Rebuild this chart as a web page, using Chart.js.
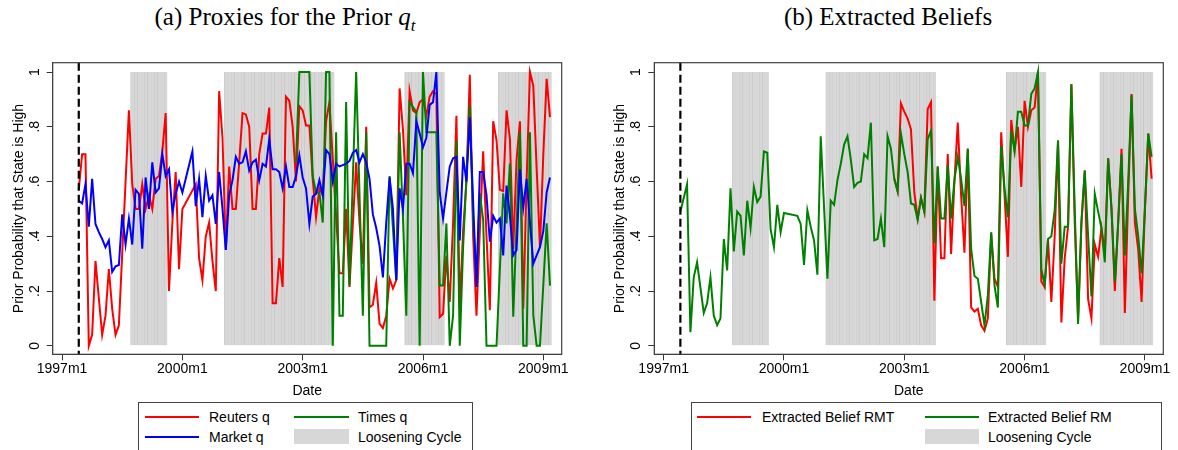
<!DOCTYPE html>
<html>
<head>
<meta charset="utf-8">
<script src="https://cdn.jsdelivr.net/npm/chart.js@4.4.1/dist/chart.umd.min.js"></script>
<style>
	body { margin: 0; width: 1178px; height: 450px; overflow: hidden; position: relative; background: #fff; font-family: "Liberation Sans", Arial, sans-serif; color: #000; }
	.panel { position: absolute; top: 0; width: 589px; height: 400px; }
	.title { position: absolute; top: 3px; width: 400px; text-align: center; font-family: "Liberation Serif", "DejaVu Serif", serif; font-size: 25px; }
	.legend { position: absolute; top: 402px; height: 60px; border: 1px solid #444; box-sizing: border-box; }
	.key { position: absolute; height: 2px; }
	.swatch { position: absolute; height: 15px; background: #d7d7d7; }
	.lab { position: absolute; font-size: 14px; line-height: 18px; white-space: nowrap; }
</style>
</head>
<body>

<div class="title" style="left:85px">(a) Proxies for the Prior <i>q<sub style="font-size:17px">t</sub></i></div>
<div class="title" style="left:688px">(b) Extracted Beliefs</div>

<div class="panel" style="left:0"><canvas id="chart_a" width="589" height="400"></canvas></div>
<div class="panel" style="left:589px"><canvas id="chart_b" width="589" height="400"></canvas></div>

<div class="legend" style="left:138px;width:335px"></div>
<div class="key" style="left:145px;top:416px;width:54px;background:#ff0000"></div>
<div class="lab" style="left:209px;top:408px">Reuters q</div>
<div class="key" style="left:145px;top:436px;width:54px;background:#0000ff"></div>
<div class="lab" style="left:209px;top:428px">Market q</div>
<div class="key" style="left:294px;top:416px;width:55px;background:#008000"></div>
<div class="lab" style="left:358px;top:408px">Times q</div>
<div class="swatch" style="left:294px;top:429px;width:55px"></div>
<div class="lab" style="left:358px;top:428px">Loosening Cycle</div>

<div class="legend" style="left:691px;width:471px"></div>
<div class="key" style="left:697px;top:416px;width:54px;background:#ff0000"></div>
<div class="lab" style="left:762px;top:408px">Extracted Belief RMT</div>
<div class="key" style="left:925px;top:416px;width:54px;background:#008000"></div>
<div class="lab" style="left:988px;top:408px">Extracted Belief RM</div>
<div class="swatch" style="left:925px;top:429px;width:54px"></div>
<div class="lab" style="left:988px;top:428px">Loosening Cycle</div>

<script>
// months are counted from 1997m1 = 0
const xTickMonths = [0, 36, 72, 108, 144]
const xTickLabels = ['1997m1', '2000m1', '2003m1', '2006m1', '2009m1']
const yTickValues = [0, 0.2, 0.4, 0.6, 0.8, 1]
const yTickLabels = ['0', '.2', '.4', '.6', '.8', '1']
const dashMonth = 5

// loosening cycles (first and last month of each)
const loosenStart = [21, 49, 103, 131]
const loosenEnd = [31, 81, 114, 146]

// panel (a), monthly from 1997m6 (null = no observation, line joins across)
const proxyStart = 5
const reutersQ = [
	.57, .70, .70, .00, .04, .31, null, .04, .11, .28, .135, .04,
	.075, null, null, .86, .59, .50, .50, .59, .50, .55, .50, .61,
	.62, .71, .85, .20, .45, .635, .28, .50, null, null, null, .59,
	.32, .24, .40, .45, .31, .20, .93, .76, .35, .655, .50, .50,
	.67, .85, .845, .80, .50, .50, .70, .775, .775, .87, .155, .155,
	.32, .215, .91, .895, .80, .60, .875, .86, .805, .805, .61, .47,
	.575, .55, .82, .89, null, null, .265, .265, .50, .215, null, .67,
	.45, .30, .80, .14, .15, .23, .08, .065, .11, .245, .21, .24,
	.94, .79, .55, .93, .86, .85, .89, .90, .84, .91, .93, .92,
	.105, .117, .33, .16, .45, .84, .14, .42, .60, .99, .40, .11,
	.42, .71, .40, .13, .82, .75, .57, .565, .86, .756, .354, .68,
	.82, .135, .60, 1.0, .95, .65, .36, .70, .975, .835,
]
const marketQ = [
	.53, .52, .59, .435, .61, .445, .415, .39, .36, .385, .27, .29,
	.295, .48, .37, .465, .37, .57, .555, .355, .615, .50, .67, .56,
	.575, .70, .62, .645, .49, .555, .60, .56, null, null, .71, .51,
	.61, .47, .62, .53, .55, .445, .635, .50, .35, .55, .605, .69,
	.665, .67, .71, .64, .67, .68, .605, .665, .655, .755, .645, .645,
	.635, .575, .655, .58, .58, .62, .695, .615, .575, .445, .545, .555,
	.605, .55, .715, .70, .60, .665, .655, .66, .665, .675, .705, .715,
	.67, .70, .67, .61, .48, .43, .365, .25, .45, .615, .50, .24,
	.575, .50, .665, .665, .63, .82, .775, .725, .76, .88, .89, 1.0,
	.56, .465, .56, .655, .685, .69, .385, .69, .60, .835, .525, .215,
	.635, .635, .55, .38, .475, .45, .465, .33, .585, .475, .33, .35,
	.645, .505, .61, .45, .30, .33, .36, .42, .56, .615,
]
// Times q starts in 2002m11
const timesStart = 70
const timesQ = [
	.67, 1, 1, 1, 1, .62, .56, .56, .45, 1, 1, 0,
	.78, .11, .11, .89, .22, null, 1, null, .11, .78, 0, 0,
	0, 0, 0, 0, .62, null, .24, .78, .47, .11, .89, null,
	.855, 0, 1, .78, .78, .78, .78, .22, .22, .447, 0, .11,
	.75, 0, .36, .617, .88, .46, .24, .557, .46, 0, 0, 0,
	0, null, .557, .447, .666, .106, null, .78, 0, 0, .78, .112,
	0, 0, null, .447, .22,
]

// panel (b)
const beliefStart = 5
const beliefRM = [
	.49, null, .59, .05, .25, .305, null, .12, .155, .25, .11, .075,
	.10, .39, .275, .575, .345, .49, .475, .33, .53, .43, .58, .525,
	.545, .71, .705, .425, .36, .515, .415, .485, null, null, null, .475,
	.445, .295, .495, .435, .385, .26, .765, null, .245, .53, .515, .605,
	.665, .735, .765, .68, .58, .595, .60, .70, .685, .815, .385, .39,
	.465, .36, .765, .72, .61, .565, .775, .70, .635, .52, .515, .46,
	.54, .49, .755, .785, .375, .655, .465, .465, .66, .465, .605, .69,
	.61, .51, .72, .355, .255, .245, .16, .075, .185, .415, .22, .14,
	.73, .575, .47, .785, .71, .855, .855, .805, .805, .92, .94, 1.0,
	.28, .225, .39, .40, .495, .75, .30, .435, .435, .955, .50, .08,
	.45, .64, .40, .18, .555, .49, .43, .305, .685, .50, .235, .45,
	.70, .33, .60, .915, .50, .40, .265, .50, .775, .69,
]
const rmtStart = 69
const beliefRMT = [
	.61, .565, .885, .855, .83, .79, .56, .465, .54, .49, .865, .89,
	.165, .655, .32, .32, .70, .335, .60, .815, .55, .34, .72, .14,
	.125, .135, .075, .055, .10, .41, .245, .215, .78, .55, .325, .825,
	.715, .80, .58, .895, .80, .86, .87, 1.0, .235, .215, .39, .16,
	.40, .75, .085, .32, .435, .955, .45, .10, .45, .64, .17, .10,
	.37, .325, .43, .34, .685, .50, .20, .45, .72, .12, .55, .92,
	.45, .35, .16, .50, .775, .61,
]

const sansFont = '"Liberation Sans", Arial, sans-serif'

function toPoints(start, values) {
	return values.map(function (v, i) {
		return { x: start + i, y: v }
	})
}

function loosenBars() {
	let bars = []
	for (let k = 0; k < loosenStart.length; k++) {
		for (let m = loosenStart[k]; m <= loosenEnd[k]; m++) {
			bars.push({ x: m, y: 1 })
		}
	}
	return bars
}

function lineSet(label, color, points, order) {
	return {
		type: 'line',
		label: label,
		data: points,
		borderColor: color,
		borderWidth: 2,
		pointRadius: 0,
		tension: 0,
		spanGaps: true,
		fill: false,
		order: order,
	}
}

function barSet() {
	return {
		type: 'bar',
		label: 'Loosening Cycle',
		data: loosenBars(),
		backgroundColor: '#d7d7d7',
		borderColor: '#cacaca',
		borderWidth: { left: 1, right: 0, top: 0, bottom: 0 },
		borderSkipped: false,
		barPercentage: 1,
		categoryPercentage: 1,
		order: 10,
	}
}

// frame, dashed start line and the rotated y tick labels
const decorPlugin = {
	id: 'decor',
	afterDatasetsDraw: function (chart) {
		const ctx = chart.ctx
		const area = chart.chartArea
		const x = chart.scales.x.getPixelForValue(dashMonth)
		ctx.save()
		ctx.strokeStyle = '#000'
		ctx.lineWidth = 2.2
		ctx.setLineDash([8, 4])
		ctx.beginPath()
		ctx.moveTo(x, area.top)
		ctx.lineTo(x, area.bottom)
		ctx.stroke()
		ctx.restore()
	},
	afterDraw: function (chart) {
		const ctx = chart.ctx
		const area = chart.chartArea
		ctx.save()
		ctx.strokeStyle = '#404040'
		ctx.lineWidth = 1.2
		ctx.strokeRect(area.left, area.top, area.right - area.left, area.bottom - area.top)
		ctx.fillStyle = '#000'
		ctx.font = '14px ' + sansFont
		ctx.textAlign = 'center'
		ctx.textBaseline = 'middle'
		yTickValues.forEach(function (v, i) {
			const y = chart.scales.y.getPixelForValue(v)
			ctx.save()
			ctx.translate(area.left - 18, y)
			ctx.rotate(-Math.PI / 2)
			ctx.fillText(yTickLabels[i], 0, 0)
			ctx.restore()
		})
		ctx.restore()
	},
}

function makeOptions(padLeft, padRight) {
	return {
		responsive: false,
		animation: false,
		events: [],
		layout: { padding: { left: padLeft, right: padRight, top: 62.7, bottom: 0 } },
		plugins: { legend: { display: false }, tooltip: { enabled: false } },
		scales: {
			x: {
				type: 'linear',
				min: -2.8,
				max: 149.5,
				offset: false,
				afterBuildTicks: function (s) {
					s.ticks = xTickMonths.map(function (v) { return { value: v } })
				},
				afterFit: function (s) { s.height = 45.7 },
				grid: { offset: false, drawOnChartArea: false, drawTicks: true, tickLength: 6, color: '#333' },
				border: { display: true, color: '#404040' },
				ticks: {
					autoSkip: false,
					maxRotation: 0,
					padding: 0,
					color: '#000',
					font: { family: sansFont, size: 14 },
					callback: function (v, i) { return xTickLabels[i] },
				},
				title: { display: true, text: 'Date', color: '#000', font: { family: sansFont, size: 14 }, padding: { top: 7.6, bottom: 0 } },
			},
			y: {
				type: 'linear',
				min: -0.031,
				max: 1.034,
				afterBuildTicks: function (s) {
					s.ticks = yTickValues.map(function (v) { return { value: v } })
				},
				afterFit: function (s) { s.width = 52.7 },
				grid: { drawOnChartArea: false, drawTicks: true, tickLength: 6, color: '#333' },
				border: { display: true, color: '#404040' },
				ticks: { color: 'rgba(0,0,0,0)', font: { family: sansFont, size: 14 } },
				title: { display: true, text: 'Prior Probability that State is High', color: '#000', font: { family: sansFont, size: 14 }, padding: { top: 10.6, bottom: 0 } },
			},
		},
	}
}

// eslint-disable-next-line no-undef
new Chart(document.getElementById('chart_a').getContext('2d'), {
	data: {
		datasets: [
			barSet(),
			lineSet('Reuters q', '#ff0000', toPoints(proxyStart, reutersQ), 3),
			lineSet('Times q', '#008000', toPoints(timesStart, timesQ), 2),
			lineSet('Market q', '#0000ff', toPoints(proxyStart, marketQ), 1),
		],
	},
	options: makeOptions(0, 27.3),
	plugins: [decorPlugin],
})

// eslint-disable-next-line no-undef
new Chart(document.getElementById('chart_b').getContext('2d'), {
	data: {
		datasets: [
			barSet(),
			lineSet('Extracted Belief RMT', '#ff0000', toPoints(rmtStart, beliefRMT), 2),
			lineSet('Extracted Belief RM', '#008000', toPoints(beliefStart, beliefRM), 1),
		],
	},
	options: makeOptions(12.6, 14.7),
	plugins: [decorPlugin],
})
</script>
</body>
</html>
